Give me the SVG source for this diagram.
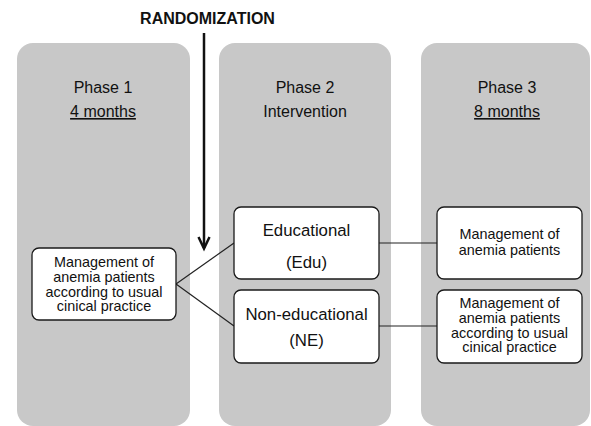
<svg xmlns="http://www.w3.org/2000/svg" width="591" height="426" viewBox="0 0 591 426">
<style>
.panel{fill:#c8c8c8;}
.box{fill:#fff;stroke:#1a1a1a;stroke-width:1.3;}
text{font-family:"Liberation Sans",Arial,sans-serif;fill:#111;text-anchor:middle;}
.h{font-size:16px;}
.b{font-size:16.8px;}
.s{font-size:14.4px;}
.conn{stroke:#222;stroke-width:1.2;fill:none;}
</style>
<rect width="591" height="426" fill="#fff"/>
<g id="phase1">
<rect class="panel" x="17" y="43" width="173" height="383" rx="16"/>
<text class="h" x="103" y="93">Phase 1</text>
<text class="h" x="103" y="117" text-decoration="underline">4 months</text>
</g>
<g id="phase2">
<rect class="panel" x="219" y="43" width="172" height="383" rx="16"/>
<text class="h" x="305" y="93">Phase 2</text>
<text class="h" x="305" y="117">Intervention</text>
</g>
<g id="phase3">
<rect class="panel" x="421" y="43" width="169" height="383" rx="16"/>
<text class="h" x="507" y="93">Phase 3</text>
<text class="h" x="507" y="117" text-decoration="underline">8 months</text>
</g>
<g id="randomization">
<text x="207.5" y="24" style="font-size:16px;font-weight:bold">RANDOMIZATION</text>
<line x1="204" y1="33" x2="204" y2="248" stroke="#111" stroke-width="2.5"/>
<polyline points="198.5,237 204,248.5 209.5,237" fill="none" stroke="#111" stroke-width="2.5"/>
</g>
<g id="connectors">
<line class="conn" x1="176" y1="284" x2="234" y2="243"/>
<line class="conn" x1="176" y1="284" x2="234" y2="326"/>
<line class="conn" x1="379" y1="243" x2="437" y2="243"/>
<line class="conn" x1="379" y1="326" x2="437" y2="326"/>
</g>
<g id="usual1">
<rect class="box" x="32" y="248" width="144" height="72" rx="7"/>
<text class="s" x="104" y="267">Management of</text>
<text class="s" x="104" y="282">anemia patients</text>
<text class="s" x="104" y="296.5">according to usual</text>
<text class="s" x="104" y="311">cinical practice</text>
</g>
<g id="edu">
<rect class="box" x="234" y="207" width="145" height="72" rx="7"/>
<text class="b" x="306.5" y="236">Educational</text>
<text class="b" x="306.5" y="268">(Edu)</text>
</g>
<g id="ne">
<rect class="box" x="234" y="290" width="145" height="73" rx="7"/>
<text class="b" x="306.5" y="320">Non-educational</text>
<text class="b" x="306.5" y="346">(NE)</text>
</g>
<g id="mgmt3">
<rect class="box" x="437" y="207" width="145" height="72" rx="7"/>
<text class="s" x="509.5" y="239">Management of</text>
<text class="s" x="509.5" y="254.5">anemia patients</text>
</g>
<g id="usual3">
<rect class="box" x="437" y="290" width="145" height="73" rx="7"/>
<text class="s" x="509.5" y="308">Management of</text>
<text class="s" x="509.5" y="322.5">anemia patients</text>
<text class="s" x="509.5" y="337.5">according to usual</text>
<text class="s" x="509.5" y="352">cinical practice</text>
</g>
</svg>
